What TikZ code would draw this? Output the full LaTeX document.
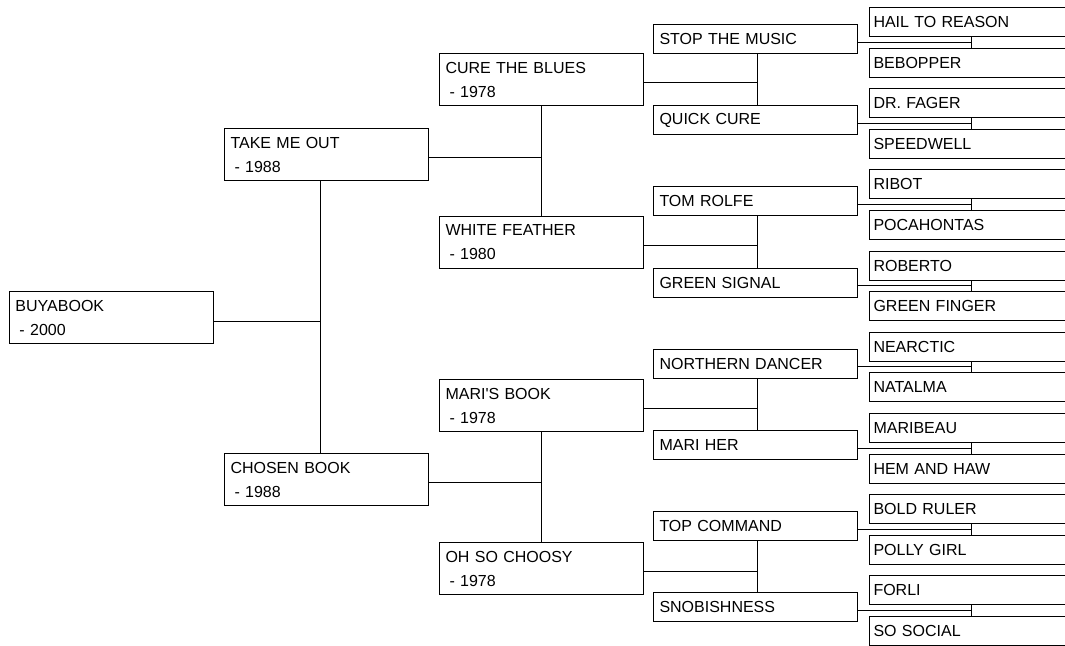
\documentclass[tikz,border=0pt]{standalone}
\usepackage{fontspec}
\setmainfont{Liberation Sans}
\tikzset{
  horse/.style={draw, line width=1pt, anchor=north west, minimum width=204pt,
    minimum height=29pt, inner xsep=6pt, inner ysep=0pt, text width=192pt,
    align=left, font=\fontsize{16}{24}\selectfont},
  dated/.style={horse, minimum height=52pt},
  link/.style={line width=1pt},
}
\begin{document}
\begin{tikzpicture}[x=1pt, y=-1pt]
    \useasboundingbox (0,0) rectangle (1065,645);
    \clip (0,0) rectangle (1065,645);

    % Generacion 0 y 1
    \node[dated] (g0-0) at (9,291) {BUYABOOK\\\hspace*{4pt}- 2000};
    \foreach \name/\yr [count=\i from 0] in {TAKE ME OUT/1988, CHOSEN BOOK/1988}
        \node[dated] (g1-\i) at (224,128+325*\i) {\name\\\hspace*{4pt}- \yr};

    % Generacion 2
    \foreach \name/\yr [count=\i from 0] in {CURE THE BLUES/1978, WHITE FEATHER/1980,
        MARI\textquotesingle S BOOK/1978, OH SO CHOOSY/1978}
        \node[dated] (g2-\i) at (439,53+163*\i) {\name\\\hspace*{4pt}- \yr};

    % Generacion 3
    \foreach \name [count=\i from 0] in {STOP THE MUSIC, QUICK CURE, TOM ROLFE, GREEN SIGNAL,
        NORTHERN DANCER, MARI HER, TOP COMMAND, SNOBISHNESS}
        \node[horse] (g3-\i) at (653,24+81.2*\i) {\name};

    % Generacion 4 (cortada por el borde derecho)
    \foreach \name [count=\i from 0] in {HAIL TO REASON, BEBOPPER, DR. FAGER, SPEEDWELL,
        RIBOT, POCAHONTAS, ROBERTO, GREEN FINGER, NEARCTIC, NATALMA, MARIBEAU,
        HEM AND HAW, BOLD RULER, POLLY GIRL, FORLI, SO SOCIAL}
        \node[horse, inner xsep=4pt, text width=240pt] (g4-\i) at (869,7+40.6*\i) {\name};

    % Lineas padre -> hijos
    \draw[link] ([yshift=-3.5pt]g0-0.east) -- ([yshift=-3.5pt,xshift=-6pt]g0-0.east -| g1-0.south);
    \draw[link] ([xshift=-6pt]g1-0.south) -- ([xshift=-6pt]g1-1.north);
    \foreach \i in {0,1} {
        \pgfmathtruncatemacro\a{2*\i}
        \pgfmathtruncatemacro\b{2*\i+1}
        \draw[link] ([yshift=-3pt]g1-\i.east) -- ([yshift=-3pt]g1-\i.east -| g2-\a.south);
        \draw[link] (g2-\a.south) -- (g2-\b.north);
    }
    \foreach \i in {0,...,3} {
        \pgfmathtruncatemacro\a{2*\i}
        \pgfmathtruncatemacro\b{2*\i+1}
        \draw[link] ([yshift=-3pt]g2-\i.east) -- ([yshift=-3pt,xshift=1.5pt]g2-\i.east -| g3-\a.south);
        \draw[link] ([xshift=1.5pt]g3-\a.south) -- ([xshift=1.5pt]g3-\b.north);
    }
    \foreach \i in {0,...,7} {
        \pgfmathtruncatemacro\a{2*\i}
        \pgfmathtruncatemacro\b{2*\i+1}
        \draw[link] ([yshift=-3pt]g3-\i.east) -- ([yshift=-3pt,xshift=102pt]g3-\i.east -| g4-\a.west);
        \draw[link] ([xshift=102pt]g4-\a.south west) -- ([xshift=102pt]g4-\b.north west);
    }
\end{tikzpicture}
\end{document}
